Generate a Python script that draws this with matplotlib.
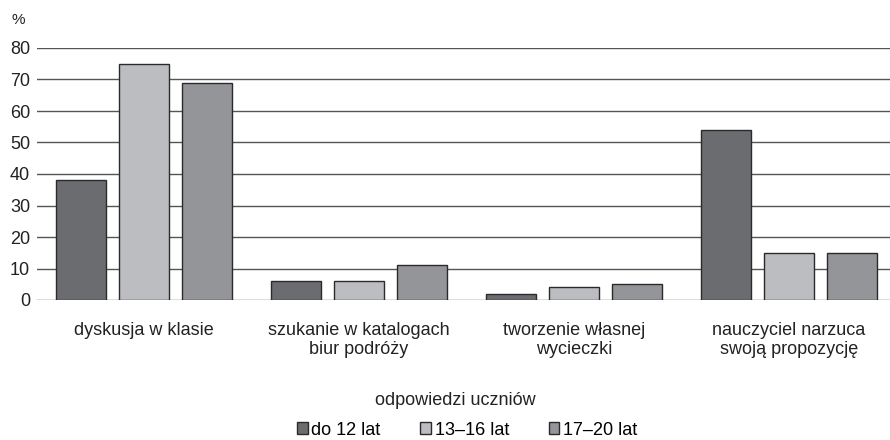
import numpy as np
import matplotlib
matplotlib.use("Agg")
import matplotlib.pyplot as plt

plt.rcParams['font.family'] = ['Liberation Sans', 'DejaVu Sans']
plt.rcParams['font.size'] = 13

categories = ["dyskusja w klasie", "szukanie w katalogach\nbiur podróży",
              "tworzenie własnej\nwycieczki", "nauczyciel narzuca\nswoją propozycję"]
series_names = ["do 12 lat", "13\u201316 lat", "17\u201320 lat"]
do12 = [38, 6, 2, 54]
s13_16 = [75, 6, 4, 15]
s17_20 = [69, 11, 5, 15]
colors = ["#6b6c70", "#bcbdc1", "#949599"]
yticks = [0, 10, 20, 30, 40, 50, 60, 70, 80]

fig = plt.figure(figsize=(8.9, 4.4), dpi=100)
ax = fig.add_axes([37 / 890, 1 - 300 / 440, 1 - 37 / 890, 252 / 440])

x = np.arange(len(categories))
# group spacing in the picture is about 215 px
width = 50 / 215
step = 63 / 215
for i, (vals, name) in enumerate(zip([do12, s13_16, s17_20], series_names)):
    ax.bar(x + (i - 1) * step, vals, width, color=colors[i], edgecolor="#2a2a2a",
           linewidth=1.0, label=name, zorder=3)

ax.set_xlim(-107 / 215, 3 + 101 / 215)
ax.set_ylim(0, 80)
ax.set_yticks(yticks)
ax.yaxis.grid(True, color="#555555", linewidth=1.0, zorder=0)
ax.set_axisbelow(True)
for s in ax.spines.values():
    s.set_visible(False)
ax.tick_params(axis="both", length=0, colors="#222222", labelsize=13)
ax.tick_params(axis="y", pad=5)
ax.set_xticks(x)
ax.set_xticklabels(categories, linespacing=1.1)
ax.tick_params(axis="x", pad=16)

fig.text(18 / 890, 1 - 20 / 440, "%", ha="center", va="center", fontsize=11, color="#222222")
fig.text(455 / 890, 1 - 400 / 440, "odpowiedzi uczniów", ha="center", va="center",
         fontsize=13, color="#222222")
fig.legend(loc="center", bbox_to_anchor=(467 / 890, 1 - 430 / 440), ncol=3, frameon=False,
           handlelength=0.6, handleheight=0.6, handletextpad=0.2, columnspacing=2.2,
           fontsize=13, borderpad=0, borderaxespad=0)

fig.savefig("out.png", dpi=100)
